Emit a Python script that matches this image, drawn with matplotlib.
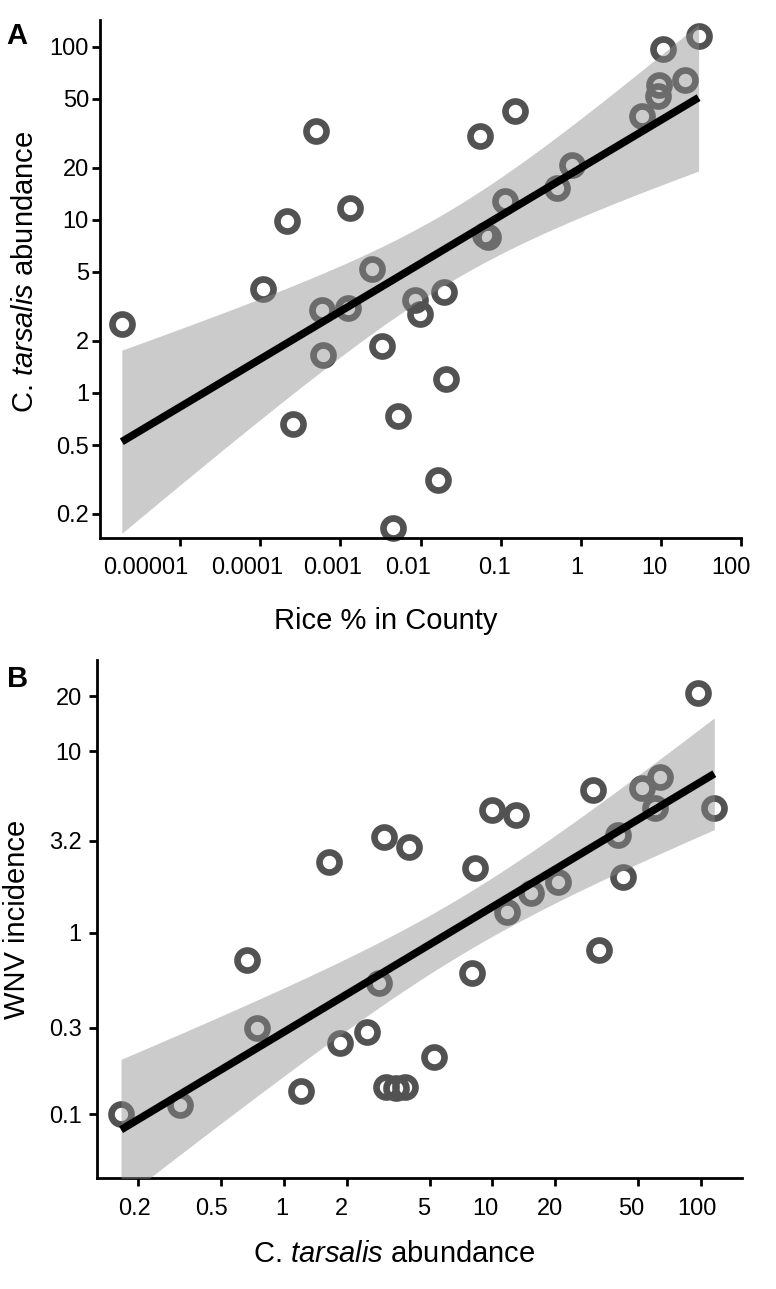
import numpy as np
import matplotlib
matplotlib.use('Agg')
import matplotlib.pyplot as plt
from matplotlib.ticker import FixedLocator, FixedFormatter, NullLocator
from matplotlib.transforms import ScaledTranslation

plt.rcParams['font.family'] = ['Liberation Sans', 'DejaVu Sans']
plt.rcParams['mathtext.fontset'] = 'custom'
plt.rcParams['mathtext.rm'] = 'Liberation Sans'
plt.rcParams['mathtext.it'] = 'Liberation Sans:italic'

# one value per county, ordered by C. tarsalis abundance
abundance = [0.165, 0.315, 0.665, 0.74, 1.2, 1.65, 1.86, 2.5, 2.86, 3.0, 3.08,
             3.45, 3.82, 3.97, 5.22, 8.0, 8.2, 9.9, 11.7, 12.9, 15.3, 20.7,
             30.5, 32.5, 40.0, 42.5, 52.0, 60.0, 64.0, 97.0, 116.0]
rice_pct = [4.55e-3, 0.0166, 2.56e-4, 5.25e-3, 0.0205, 6.06e-4, 3.35e-3, 1.87e-6,
            9.8e-3, 5.96e-4, 1.24e-3, 8.5e-3, 0.0196, 1.08e-4, 2.5e-3, 0.07,
            0.0637, 2.15e-4, 1.31e-3, 0.113, 0.5, 0.77, 0.055, 5.0e-4, 5.8, 0.151,
            9.3, 9.5, 20.1, 10.6, 29.5]
wnv_incidence = [0.1, 0.113, 0.707, 0.298, 0.135, 2.46, 0.246, 0.285, 0.526, 3.38,
                 0.142, 0.14, 0.142, 2.97, 0.208, 0.598, 2.26, 4.73, 1.3, 4.44,
                 1.65, 1.91, 6.1, 0.8, 3.45, 2.03, 6.23, 4.84, 7.22, 20.9, 4.84]

a_xticks = [1e-5, 1e-4, 1e-3, 1e-2, 1e-1, 1, 10, 100]
a_xlabels = ['0.00001', '0.0001', '0.001', '0.01', '0.1', '1', '10', '100']
a_yticks = [0.2, 0.5, 1, 2, 5, 10, 20, 50, 100]
a_ylabels = ['0.2', '0.5', '1', '2', '5', '10', '20', '50', '100']
b_xticks = [0.2, 0.5, 1, 2, 5, 10, 20, 50, 100]
b_xlabels = ['0.2', '0.5', '1', '2', '5', '10', '20', '50', '100']
b_yticks = [0.1, 0.3, 1, 3.2, 10, 20]
b_ylabels = ['0.1', '0.3', '1', '3.2', '10', '20']

# horizontal nudges (pixels) of the x tick labels, as in the original figure
a_xshift = [-34, -13, -8, -12, -6, -4, -7, -10]
b_xshift = [-4, -10, -2, -5, -6, -7, -5, -7, -4]

T_975 = 2.045  # t quantile, 29 df


def fit_band(x, y):
  lx = np.log10(x)
  ly = np.log10(y)
  n = len(lx)
  slope, icpt = np.polyfit(lx, ly, 1)
  resid = ly - (slope * lx + icpt)
  s = np.sqrt(np.sum(resid ** 2) / (n - 2))
  grid = np.linspace(lx.min(), lx.max(), 200)
  se = s * np.sqrt(1.0 / n + (grid - lx.mean()) ** 2 / np.sum((lx - lx.mean()) ** 2))
  fit = slope * grid + icpt
  return 10 ** grid, 10 ** fit, 10 ** (fit - T_975 * se), 10 ** (fit + T_975 * se)


def draw_panel(ax, x, y, xlim, ylim, xticks, xlabels, yticks, ylabels):
  gx, gfit, glo, ghi = fit_band(np.array(x), np.array(y))
  ax.plot(x, y, 'o', markersize=14.4, markerfacecolor='none',
          markeredgecolor='#525252', markeredgewidth=4.8, zorder=2, clip_on=False)
  ax.fill_between(gx, glo, ghi, color='#8c8c8c', alpha=0.45, linewidth=0, zorder=3)
  ax.plot(gx, gfit, color='black', linewidth=5.5, solid_capstyle='butt', zorder=4)
  ax.set_xscale('log')
  ax.set_yscale('log')
  ax.set_xlim(xlim)
  ax.set_ylim(ylim)
  ax.xaxis.set_major_locator(FixedLocator(xticks))
  ax.xaxis.set_major_formatter(FixedFormatter(xlabels))
  ax.yaxis.set_major_locator(FixedLocator(yticks))
  ax.yaxis.set_major_formatter(FixedFormatter(ylabels))
  ax.xaxis.set_minor_locator(NullLocator())
  ax.yaxis.set_minor_locator(NullLocator())
  for side in ['top', 'right']:
    ax.spines[side].set_visible(False)
  for side in ['left', 'bottom']:
    ax.spines[side].set_linewidth(2)
  ax.tick_params(axis='both', which='major', length=6, width=2, color='black')
  ax.tick_params(axis='x', labelsize=17, pad=8)


def nudge_xlabels(ax, shifts):
  fig = ax.figure
  for tick, dx in zip(ax.xaxis.get_major_ticks(len(shifts)), shifts):
    off = ScaledTranslation(dx / fig.dpi, 0, fig.dpi_scale_trans)
    tick.label1.set_transform(tick.label1.get_transform() + off)


fig = plt.figure(figsize=(7.76, 12.89), dpi=100)

axA = fig.add_axes([0.1289, 0.5826, 0.8261, 0.4019])
draw_panel(axA, rice_pct, abundance, (1e-6, 100), (0.145, 143),
           a_xticks, a_xlabels, a_yticks, a_ylabels)
axA.tick_params(axis='y', labelsize=17, pad=2)
nudge_xlabels(axA, a_xshift)
axA.set_xlabel('Rice % in County', fontsize=21)
axA.xaxis.set_label_coords(0.445, -0.133)
axA.set_ylabel('C. $\\mathit{tarsalis}$ abundance', fontsize=21)
axA.yaxis.set_label_coords(-0.095, 0.513)

axB = fig.add_axes([0.125, 0.0859, 0.8308, 0.4021])
draw_panel(axB, abundance, wnv_incidence, (0.1265, 157), (0.0445, 31.7),
           b_xticks, b_xlabels, b_yticks, b_ylabels)
axB.tick_params(axis='y', labelsize=17, pad=5)
nudge_xlabels(axB, b_xshift)
axB.set_xlabel('C. $\\mathit{tarsalis}$ abundance', fontsize=21)
axB.xaxis.set_label_coords(0.461, -0.119)
axB.set_ylabel('WNV incidence', fontsize=21)
axB.yaxis.set_label_coords(-0.1024, 0.5)

fig.text(0.008, 0.983, 'A', fontsize=21, fontweight='bold', va='top')
fig.text(0.009, 0.484, 'B', fontsize=21, fontweight='bold', va='top')

plt.savefig('out.png', dpi=100)
